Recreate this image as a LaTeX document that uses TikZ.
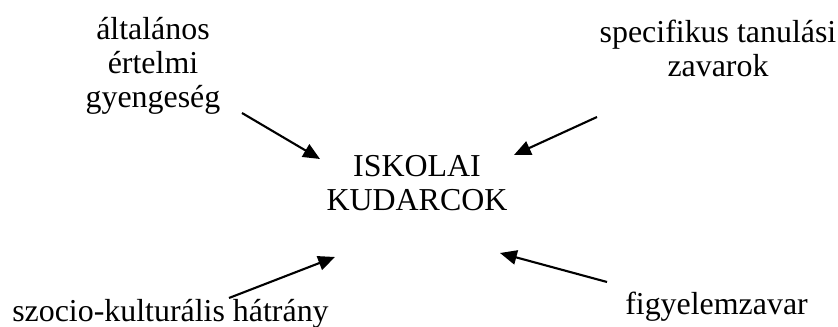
\documentclass[tikz,border=0pt]{standalone}
\usepackage{fontspec}
\setmainfont{Liberation Serif}
\usetikzlibrary{arrows.meta}

\begin{document}
\begin{tikzpicture}[
  lbl/.style={inner sep=0pt, align=center, font=\fontsize{22.7}{24.5}\selectfont},
  arr/.style={line width=1.5pt, -{Triangle[length=0.42cm,width=0.36cm]}}
]
\useasboundingbox (0,0) rectangle (20.95,8.175);
% middle
\node[lbl, anchor=base] (kudarc) at (10.425,2.9) {ISKOLAI\\KUDARCOK};
% causes
\node[lbl, anchor=base] (ertelmi) at (3.825,5.475) {általános\\értelmi\\gyengeség};
\node[lbl, anchor=base] (tanulasi) at (17.95,6.25) {specifikus tanulási\\zavarok};
\node[lbl, anchor=base west] (szocio) at (0.3,0.125) {szocio-kulturális hátrány};
\node[lbl, anchor=base west] (figyelem) at (15.625,0.3) {figyelemzavar};
% arrow ends
\coordinate (t1) at (6.05,5.35);
\coordinate (h1) at (8.0,4.2);
\coordinate (t2) at (14.925,5.25);
\coordinate (h2) at (12.85,4.3);
\coordinate (t3) at (5.725,0.725);
\coordinate (h3) at (8.375,1.75);
\coordinate (t4) at (15.175,1.125);
\coordinate (h4) at (12.5,1.85);
\draw[arr] (t1) -- (h1);
\draw[arr] (t2) -- (h2);
\draw[arr] (t3) -- (h3);
\draw[arr] (t4) -- (h4);
\end{tikzpicture}
\end{document}
